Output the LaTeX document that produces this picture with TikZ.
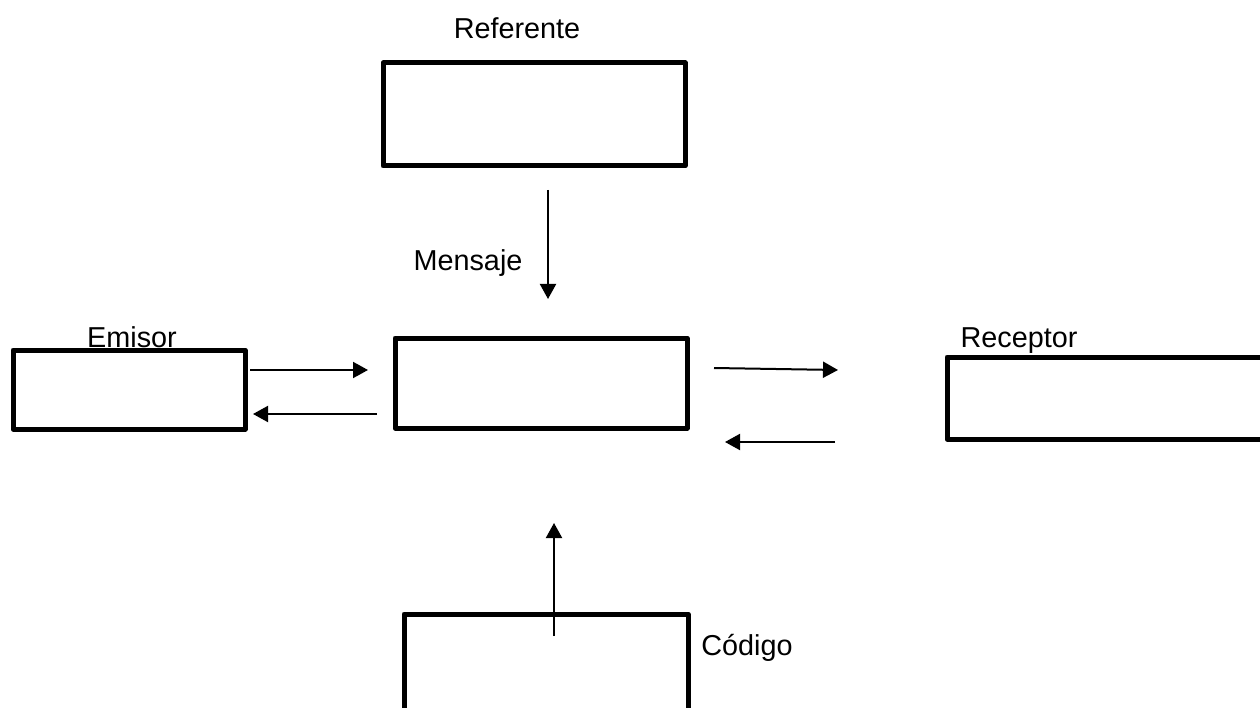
\documentclass[tikz,border=0pt]{standalone}
\usepackage{fontspec}
\setmainfont{Liberation Sans}
\usetikzlibrary{arrows.meta}

\begin{document}
\begin{tikzpicture}[x=1pt,y=-1pt,
  caja/.style={draw,line width=5pt,line join=round,inner sep=0pt},
  flecha/.style={line width=2pt,-{Triangle[length=15pt,width=16pt]}},
  rotulo/.style={anchor=base,inner sep=0pt,font=\fontsize{28.8}{34}\selectfont}]

\useasboundingbox (0,0) rectangle (1260,708);
\clip (0,0) rectangle (1260,708);

% Boxes (centre positions, sizes measured on the line centres)
\node[caja,minimum width=302pt,minimum height=103pt] (referente) at (534,114.5) {};
\node[caja,minimum width=232pt,minimum height=79pt] (emisor) at (129,389.5) {};
\node[caja,minimum width=292pt,minimum height=90pt] (mensaje) at (541,383) {};
\node[caja,minimum width=330pt,minimum height=82pt] (receptor) at (1112,398) {};
\node[caja,minimum width=284pt,minimum height=106pt] (codigo) at (546,667) {};

% Labels
\node[rotulo] (lref) at (517,39) {Referente};
\node[rotulo] (lmen) at (468,271) {Mensaje};
\node[rotulo] (lemi) at (132,348) {Emisor};
\node[rotulo] (lrec) at (1019,348) {Receptor};
\node[rotulo] (lcod) at (747,655) {Código};

% Arrow end points
\coordinate (a1) at (548,190);  \coordinate (a2) at (548,299);
\coordinate (b1) at (250,370);  \coordinate (b2) at (368,370);
\coordinate (c1) at (377,414);  \coordinate (c2) at (253,414);
\coordinate (d1) at (714,368);  \coordinate (d2) at (838,370);
\coordinate (e1) at (835,442);  \coordinate (e2) at (725,442);
\coordinate (f1) at (554,636);  \coordinate (f2) at (554,523);

% Arrows
\draw[flecha] (a1) -- (a2);
\draw[flecha] (b1) -- (b2);
\draw[flecha] (c1) -- (c2);
\draw[flecha] (d1) -- (d2);
\draw[flecha] (e1) -- (e2);
\draw[flecha] (f1) -- (f2);

\end{tikzpicture}
\end{document}
